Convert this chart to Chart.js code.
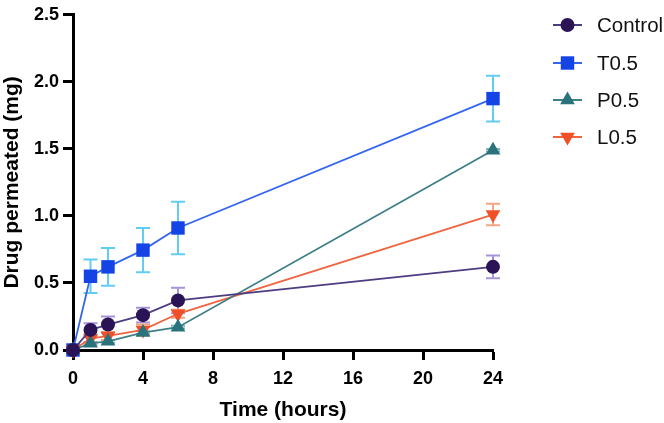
<!DOCTYPE html>
<html>
<head>
<meta charset="utf-8">
<script src="https://cdn.jsdelivr.net/npm/chart.js@4/dist/chart.umd.min.js"></script>
<style>
  html, body { margin: 0; padding: 0; background: #fff; }
  canvas { display: block; }
</style>
</head>
<body>
<canvas id="permChart" width="664" height="423"></canvas>
<script>
const timeHours = [0, 1, 2, 4, 6, 24];

const controlMean = [0, 0.15, 0.19, 0.26, 0.37, 0.62];
const controlSd = [0, 0.05, 0.06, 0.055, 0.095, 0.085];

const t05Mean = [0, 0.55, 0.62, 0.745, 0.91, 1.875];
const t05Sd = [0, 0.125, 0.14, 0.165, 0.195, 0.17];

const p05Mean = [0, 0.05, 0.065, 0.13, 0.17, 1.49];
const p05Sd = [0, 0.01, 0.01, 0.01, 0.01, 0.01];

const l05Mean = [0, 0.085, 0.105, 0.15, 0.27, 1.01];
const l05Sd = [0, 0.03, 0.03, 0.04, 0.03, 0.08];

const xTicks = [0, 4, 8, 12, 16, 20, 24];
const yTicks = [0, 0.5, 1.0, 1.5, 2.0, 2.5];

const FONT = "'Liberation Sans', Arial, Helvetica, sans-serif";

function pts(ys) {
    return timeHours.map((t, i) => ({ x: t, y: ys[i] }));
}

// each series: label, values, sd, line colour, marker colour, error bar colour, marker
const series = [
    { label: "Control", data: controlMean, sd: controlSd, line: "#4e3d82", fill: "#2a1456", err: "#a993dc", style: "circle", radius: 7, rot: 0, order: 0 },
    { label: "T0.5", data: t05Mean, sd: t05Sd, line: "#3566f0", fill: "#1444e6", err: "#62cdf2", style: "rect", radius: 9.5, rot: 0, order: 3 },
    { label: "P0.5", data: p05Mean, sd: p05Sd, line: "#3f7f88", fill: "#2a737c", err: "#7fb3b8", style: "triangle", radius: 8.5, rot: 0, order: 1 },
    { label: "L0.5", data: l05Mean, sd: l05Sd, line: "#f0643f", fill: "#f04f27", err: "#f5a582", style: "triangle", radius: 8.5, rot: 180, order: 2 }
];

// error bars drawn from the sd arrays through the chart scales
const errorBars = {
    id: "errorBars",
    beforeDatasetsDraw(chart) {
        const ctx = chart.ctx;
        const xs = chart.scales.x, ys = chart.scales.y;
        ctx.save();
        ctx.lineWidth = 2;
        series.forEach(s => {
            ctx.strokeStyle = s.err;
            s.data.forEach((v, i) => {
                const sd = s.sd[i];
                if (!sd) return;
                const px = xs.getPixelForValue(timeHours[i]);
                const top = ys.getPixelForValue(v + sd);
                const bot = ys.getPixelForValue(Math.max(0, v - sd));
                ctx.beginPath();
                ctx.moveTo(px, top); ctx.lineTo(px, bot);
                ctx.moveTo(px - 7, top); ctx.lineTo(px + 7, top);
                ctx.moveTo(px - 7, bot); ctx.lineTo(px + 7, bot);
                ctx.stroke();
            });
        });
        ctx.restore();
    }
};

function marker(ctx, s, x, y) {
    const r = s.radius;
    ctx.beginPath();
    if (s.style === "circle") {
        ctx.arc(x, y, r, 0, Math.PI * 2);
    } else if (s.style === "rect") {
        const h = r * Math.SQRT1_2;
        ctx.rect(x - h, y - h, 2 * h, 2 * h);
    } else {
        const dir = s.rot === 180 ? -1 : 1;
        ctx.moveTo(x, y - dir * r);
        ctx.lineTo(x + r * 0.866, y + dir * r * 0.5);
        ctx.lineTo(x - r * 0.866, y + dir * r * 0.5);
        ctx.closePath();
    }
    ctx.fillStyle = s.fill;
    ctx.fill();
}

// legend on the right, line through the marker like the original
const sideLegend = {
    id: "sideLegend",
    afterDraw(chart) {
        const ctx = chart.ctx;
        const rows = [25, 63, 100, 137];
        ctx.save();
        series.forEach((s, i) => {
            const y = rows[i];
            ctx.strokeStyle = s.line;
            ctx.lineWidth = 2;
            ctx.beginPath();
            ctx.moveTo(553, y); ctx.lineTo(582, y);
            ctx.stroke();
            marker(ctx, s, 567.5, y);
            ctx.fillStyle = "#111";
            ctx.font = "20.5px " + FONT;
            ctx.textBaseline = "middle";
            ctx.fillText(s.label, 597, y + 1);
        });
        ctx.restore();
    }
};

new Chart("permChart", {
    type: "line",
    data: {
        datasets: series.map(s => ({
            label: s.label,
            data: pts(s.data),
            borderColor: s.line,
            borderWidth: 1.8,
            backgroundColor: s.fill,
            pointBackgroundColor: s.fill,
            pointBorderColor: s.fill,
            pointBorderWidth: 0,
            pointStyle: s.style,
            pointRotation: s.rot,
            pointRadius: s.radius,
            tension: 0,
            clip: false,
            order: s.order
        }))
    },
    options: {
        responsive: false,
        animation: false,
        devicePixelRatio: 1,
        layout: { padding: { top: 8, right: 171, left: 0, bottom: 0 } },
        plugins: {
            legend: { display: false },
            tooltip: { enabled: false }
        },
        scales: {
            x: {
                type: "linear",
                min: 0, max: 24,
                afterBuildTicks: s => { s.ticks = xTicks.map(v => ({ value: v })); },
                afterFit: s => { s.height = 73; },
                border: { display: true, color: "#000", width: 3 },
                grid: { drawOnChartArea: false, drawTicks: true, tickLength: 10, tickWidth: 3, tickColor: "#000" },
                ticks: { color: "#000", padding: 8, maxRotation: 0, autoSkip: false, font: { family: FONT, size: 18, weight: "bold" } },
                title: { display: true, text: "Time (hours)", color: "#000", padding: { top: 4, bottom: 0 }, font: { family: FONT, size: 21, weight: "bold" } }
            },
            y: {
                min: 0, max: 2.5,
                afterBuildTicks: s => { s.ticks = yTicks.map(v => ({ value: v })); },
                afterFit: s => { s.width = 73; },
                border: { display: true, color: "#000", width: 3 },
                grid: { drawOnChartArea: false, drawTicks: true, tickLength: 10, tickWidth: 3, tickColor: "#000" },
                ticks: { color: "#000", padding: 4, autoSkip: false, font: { family: FONT, size: 18, weight: "bold" }, callback: v => v.toFixed(1) },
                title: { display: true, text: "Drug permeated (mg)", color: "#000", padding: { top: 0, bottom: 0 }, font: { family: FONT, size: 21, weight: "bold" } }
            }
        }
    },
    plugins: [errorBars, sideLegend]
});
</script>
</body>
</html>
